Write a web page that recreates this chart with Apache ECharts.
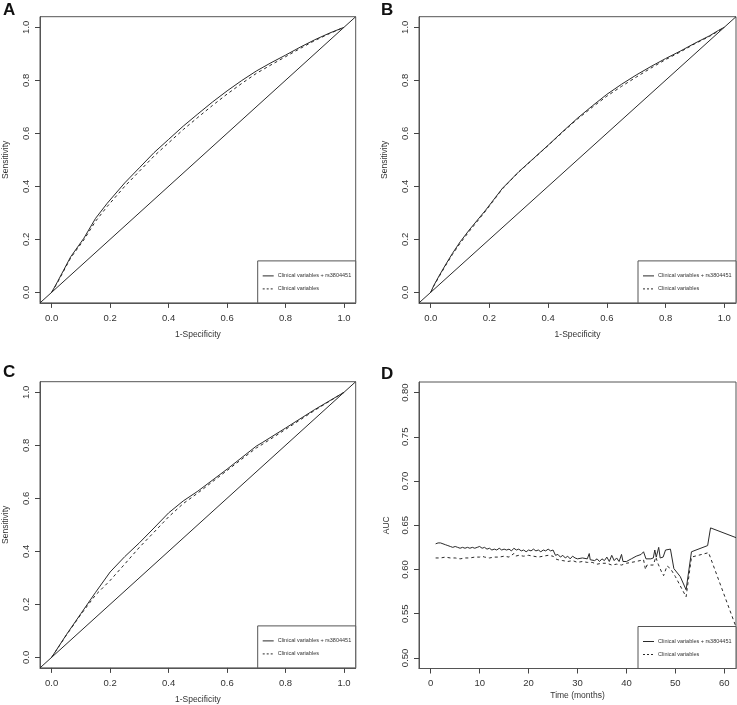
<!DOCTYPE html>
<html>
<head>
<meta charset="utf-8">
<script src="https://cdn.jsdelivr.net/npm/echarts@6/dist/echarts.min.js"></script>
<style>
html,body{margin:0;padding:0;background:#fff;}
#chart{width:737px;height:705px;}
</style>
</head>
<body>
<div id="chart"></div>
<script>
// ---------- data ----------
const panelLabels = ['A', 'B', 'C', 'D'];
const seriesNames = ['Clinical variables + rs3804451', 'Clinical variables'];
const rocTicks = [0, 0.2, 0.4, 0.6, 0.8, 1.0];
const aucTicks = [0.50, 0.55, 0.60, 0.65, 0.70, 0.75, 0.80];
const monthTicks = [0, 10, 20, 30, 40, 50, 60];
const diagonal = [-0.04, 1.04];

const aFpr = [0,0.02,0.065,0.11,0.15,0.19,0.25,0.3,0.35,0.4,0.45,0.5,0.55,0.6,0.65,0.7,0.75,0.8,0.85,0.9,0.95,1];
const aTprSnp = [0,0.04,0.134,0.204,0.279,0.336,0.413,0.47,0.527,0.577,0.627,0.673,0.718,0.76,0.799,0.835,0.866,0.895,0.925,0.953,0.978,1];
const aTprClin = [0,0.037,0.13,0.198,0.268,0.324,0.4,0.457,0.514,0.564,0.614,0.66,0.705,0.748,0.788,0.826,0.858,0.889,0.92,0.95,0.976,1];

const bFpr = [0,0.01,0.03,0.05,0.074,0.1,0.131,0.187,0.244,0.3,0.35,0.4,0.45,0.5,0.55,0.6,0.65,0.7,0.75,0.8,0.85,0.9,0.95,0.98,1];
const bTprSnp = [0,0.025,0.065,0.103,0.147,0.19,0.235,0.31,0.392,0.455,0.505,0.555,0.607,0.657,0.703,0.747,0.785,0.82,0.852,0.882,0.91,0.94,0.968,0.988,1];
const bTprClin = [0,0.023,0.062,0.1,0.143,0.185,0.23,0.307,0.39,0.454,0.504,0.554,0.605,0.654,0.698,0.74,0.777,0.812,0.846,0.878,0.907,0.938,0.966,0.986,1];

const cFpr = [0,0.05,0.1,0.15,0.2,0.25,0.3,0.35,0.4,0.45,0.5,0.6,0.7,0.72,0.8,0.9,1];
const cTprSnp = [0,0.085,0.165,0.245,0.322,0.38,0.432,0.488,0.545,0.59,0.627,0.71,0.797,0.81,0.865,0.935,1];
const cTprClin = [0,0.083,0.162,0.235,0.29,0.352,0.415,0.472,0.53,0.58,0.62,0.705,0.79,0.803,0.86,0.932,1];

const dMonthsSnp = [1,1.5,2,2.5,3,3.5,4,4.5,5,5.5,6,6.5,7,7.5,8,8.5,9,9.5,10,10.5,11,11.5,12,12.5,13,13.5,14,14.5,15,15.5,16,16.5,17,17.5,18,18.5,19,19.5,20,20.5,21,21.5,22,22.5,23,23.5,24,24.5,25,25.5,26,26.5,27,27.5,28,28.5,29,29.5,30,31,32,32.4,32.6,33,33.5,34,34.5,35,35.5,36,36.5,37,37.5,38,38.5,39,39.3,40,41,42,43,43.5,44,45,45.5,45.8,46.1,46.6,46.9,47.5,48,49,49.7,51,52.2,53.3,56.6,57.2,62.4];
const dAucSnp = [0.629,0.630,0.630,0.629,0.628,0.627,0.626,0.625,0.626,0.625,0.624,0.625,0.624,0.625,0.624,0.625,0.624,0.625,0.626,0.624,0.625,0.623,0.624,0.622,0.623,0.622,0.624,0.622,0.623,0.622,0.623,0.621,0.624,0.622,0.623,0.621,0.622,0.620,0.622,0.621,0.623,0.621,0.622,0.620,0.622,0.621,0.623,0.621,0.622,0.616,0.617,0.614,0.616,0.613,0.615,0.612,0.615,0.613,0.612,0.613,0.612,0.618,0.611,0.613,0.610,0.612,0.609,0.612,0.610,0.614,0.609,0.616,0.610,0.613,0.609,0.617,0.609,0.609,0.612,0.615,0.617,0.620,0.612,0.612,0.613,0.622,0.614,0.625,0.613,0.614,0.622,0.623,0.601,0.592,0.577,0.620,0.627,0.647,0.636];
const dMonthsClin = [1,2,3,4,5,6,7,8,9,10,10.5,11,12,13,14,15,16,17,17.3,18,19,20,21,22,23,24,25,25.5,26,27,28,29,30,31,32,33,34,35,36,37,38,39,40,42,43.5,43.9,44.2,45.5,46,46.5,47.2,47.6,48.3,49,50,52.2,53.3,56.8,57.2,62.4];
const dAucClin = [0.613,0.613,0.614,0.613,0.613,0.612,0.613,0.613,0.614,0.614,0.615,0.614,0.613,0.614,0.614,0.615,0.614,0.618,0.615,0.616,0.615,0.616,0.615,0.614,0.615,0.616,0.615,0.612,0.611,0.610,0.609,0.610,0.608,0.609,0.608,0.608,0.606,0.607,0.607,0.605,0.606,0.605,0.607,0.609,0.611,0.600,0.605,0.605,0.614,0.606,0.597,0.593,0.604,0.601,0.592,0.569,0.614,0.619,0.621,0.535];

// ---------- layout ----------
const grids = [
  {left: 39.3, top: 16.7, width: 316.4, height: 286.2},
  {left: 419, top: 16.7, width: 317, height: 286.2},
  {left: 39.3, top: 381.7, width: 316.4, height: 286.2},
  {left: 419, top: 382, width: 317, height: 286.5}
];
const FONT = 'Liberation Sans, Arial, sans-serif';
const TXT = '#333';
const LINE = '#2a2a2a';
const BOX = '#555';

function pairs(xs, ys) { return xs.map((x, i) => [x, ys[i]]); }

function xAxisFor(i, ticks, min, max, name, dec, gap) {
  return {
    type: 'value', gridIndex: i, min: min, max: max, position: 'bottom',
    name: name, nameLocation: 'middle', nameGap: gap,
    nameTextStyle: {fontFamily: FONT, fontSize: 8.5, color: TXT},
    axisLine: {show: true, onZero: false, lineStyle: {color: BOX, width: 1}},
    axisTick: {show: true, inside: false, length: 5, customValues: ticks, lineStyle: {color: '#444', width: 1}},
    axisLabel: {customValues: ticks, margin: 10, fontFamily: FONT, fontSize: 9.5, color: TXT,
      formatter: v => Number(v).toFixed(dec)},
    splitLine: {show: false}
  };
}
function yAxisFor(i, ticks, min, max, name, dec, gap) {
  return {
    type: 'value', gridIndex: i, min: min, max: max, position: 'left',
    name: name, nameLocation: 'middle', nameGap: gap, nameRotate: 90,
    nameTextStyle: {fontFamily: FONT, fontSize: 8.5, color: TXT},
    axisLine: {show: true, onZero: false, lineStyle: {color: BOX, width: 1}},
    axisTick: {show: true, inside: false, length: 5, customValues: ticks, lineStyle: {color: '#444', width: 1}},
    axisLabel: {customValues: ticks, rotate: 90, margin: 9, fontFamily: FONT, fontSize: 9.5, color: TXT,
      formatter: v => Number(v).toFixed(dec)},
    splitLine: {show: false}
  };
}
function lineSeries(i, data, dashed, name) {
  return {
    type: 'line', name: name, xAxisIndex: i, yAxisIndex: i, data: data,
    showSymbol: false, symbol: 'none', clip: true, animation: false,
    lineStyle: {color: LINE, width: 1, type: dashed ? [3, 3] : 'solid'},
    z: 3
  };
}

const xAxes = [], yAxes = [], series = [];
const rocSets = [[aFpr, aTprSnp, aTprClin], [bFpr, bTprSnp, bTprClin], [cFpr, cTprSnp, cTprClin]];
rocSets.forEach((s, i) => {
  xAxes.push(xAxisFor(i, rocTicks, -0.04, 1.04, '1-Specificity', 1, 27));
  yAxes.push(yAxisFor(i, rocTicks, -0.04, 1.04, 'Sensitivity', 1, 30));
  series.push(lineSeries(i, pairs(diagonal, diagonal), false, 'ref'));
  series.push(lineSeries(i, pairs(s[0], s[1]), false, seriesNames[0]));
  series.push(lineSeries(i, pairs(s[0], s[2]), true, seriesNames[1]));
});
xAxes.push(xAxisFor(3, monthTicks, -2.4, 62.4, 'Time (months)', 0, 23));
yAxes.push(yAxisFor(3, aucTicks, 0.488, 0.812, 'AUC', 2, 28));
series.push(lineSeries(3, pairs(dMonthsSnp, dAucSnp), false, seriesNames[0]));
series.push(lineSeries(3, pairs(dMonthsClin, dAucClin), true, seriesNames[1]));

// ---------- legends and panel letters ----------
const graphic = [];
const letterPos = [[3, 2], [381, 2], [3, 364], [381, 366]];
panelLabels.forEach((l, i) => {
  graphic.push({type: 'text', left: letterPos[i][0], top: letterPos[i][1], z: 10,
    style: {text: l, fontFamily: FONT, fontWeight: 'bold', fontSize: 17, fill: '#111'}});
});
grids.forEach((g, i) => {
  const right = g.left + g.width, bottom = g.top + g.height;
  const bx = right - 98, by = bottom - 42;
  graphic.push({type: 'rect', shape: {x: bx, y: by, width: 98, height: 42}, z: 5,
    style: {fill: '#fff', stroke: BOX, lineWidth: 1}});
  graphic.push({type: 'line', shape: {x1: bx + 5, y1: by + 15, x2: bx + 16, y2: by + 15}, z: 6,
    style: {stroke: LINE, lineWidth: 1}});
  graphic.push({type: 'line', shape: {x1: bx + 5, y1: by + 28, x2: bx + 16, y2: by + 28}, z: 6,
    style: {stroke: LINE, lineWidth: 1, lineDash: [2, 2]}});
  graphic.push({type: 'text', x: bx + 20, y: by + 15, z: 6,
    style: {text: seriesNames[0], fontFamily: FONT, fontSize: 5.5, fill: TXT, verticalAlign: 'middle'}});
  graphic.push({type: 'text', x: bx + 20, y: by + 28, z: 6,
    style: {text: seriesNames[1], fontFamily: FONT, fontSize: 5.5, fill: TXT, verticalAlign: 'middle'}});
});

const chart = echarts.init(document.getElementById('chart'), null, {renderer: 'canvas'});
chart.setOption({
  animation: false,
  backgroundColor: '#fff',
  grid: grids.map(g => Object.assign({show: true, borderColor: BOX, borderWidth: 1, backgroundColor: 'transparent'}, g)),
  xAxis: xAxes,
  yAxis: yAxes,
  series: series,
  graphic: graphic
});
</script>
</body>
</html>
